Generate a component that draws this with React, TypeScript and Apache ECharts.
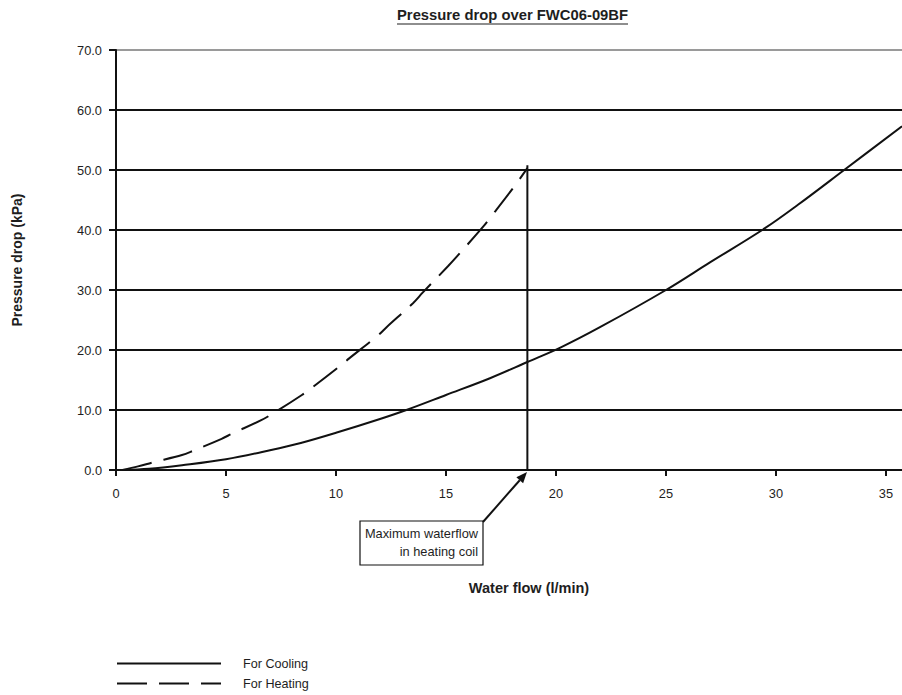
import React, { useEffect, useRef } from "react";
import * as echarts from "echarts";

const titleText = "Pressure drop over FWC06-09BF";
const xName = "Water flow (l/min)";
const yName = "Pressure drop (kPa)";
const seriesNames = ["For Cooling", "For Heating"];

const coolingFlow = [0.3, 1.5, 3, 5, 7, 8.4, 10, 12, 13.2, 15, 17, 18.7, 20.2, 22, 25, 27, 29.5, 31, 33.1, 35.73];
const coolingDrop = [0, 0.2, 0.8, 1.8, 3.3, 4.5, 6.2, 8.5, 10, 12.5, 15.3, 18.0, 20.4, 23.8, 30, 34.6, 40.3, 44.2, 50, 57.3];

const heatingFlow = [0.3, 1, 1.7, 3, 3.5, 4.8, 5.3, 6.6, 7.3, 8.45, 8.9, 10.1, 10.6, 11.9, 12.3, 13.5, 13.95, 15.1, 15.5, 16.7, 17, 18.05, 18.7];
const heatingDrop = [0, 0.6, 1.3, 2.5, 3.2, 5.2, 6.1, 8.3, 9.8, 12.5, 13.7, 17.1, 18.6, 22.4, 23.8, 27.8, 29.6, 34.0, 35.6, 40.6, 42.0, 47.0, 50.3];

const maxHeatingFlow = 18.7;
const maxLineTop = 50.8;

const xMin = 0;
const xMax = 35.73;
const xInterval = 5;
const yMin = 0;
const yMax = 70;
const yInterval = 10;

const annotationLines = ["Maximum waterflow", "in heating coil"];

const FONT = '"Liberation Sans", Arial, Helvetica, sans-serif';
const TEXT = "#1e1e1e";
const LINE = "#111";

export default function App() {
  const ref = useRef<HTMLDivElement>(null);

  useEffect(() => {
    if (!ref.current) return;
    const chart = echarts.init(ref.current, undefined, { renderer: "svg" });

    const cooling = coolingFlow.map((x, i) => [x, coolingDrop[i]]);
    const heating = heatingFlow.map((x, i) => [x, heatingDrop[i]]);

    // arrow geometry (annotation, pixels)
    const tail = [483, 522];
    const tip = [527, 472];
    const dx = tip[0] - tail[0];
    const dy = tip[1] - tail[1];
    const len = Math.sqrt(dx * dx + dy * dy);
    const ux = dx / len;
    const uy = dy / len;
    const ah = 11;
    const aw = 4.5;
    const bx = tip[0] - ux * ah;
    const by = tip[1] - uy * ah;

    const splitColors: string[] = [];
    for (let v = yMin; v <= yMax; v += yInterval) splitColors.push(v === yMax ? "#9a9a9a" : LINE);

    chart.setOption({
      animation: false,
      backgroundColor: "#fff",
      textStyle: { fontFamily: FONT },
      title: {
        text: titleText,
        left: 397,
        top: 7,
        padding: 0,
        textStyle: { fontFamily: FONT, fontWeight: "bold", fontSize: 14.8, color: TEXT },
      },
      grid: { left: 116, right: 0, top: 50, bottom: 225, containLabel: false },
      legend: {
        orient: "vertical",
        left: 116,
        top: 657,
        padding: 0,
        itemWidth: 104,
        itemHeight: 12,
        itemGap: 7,
        data: seriesNames,
        itemStyle: { color: "transparent", opacity: 0, borderWidth: 0 },
        textStyle: { fontFamily: FONT, fontSize: 12.6, color: TEXT, padding: [0, 0, 0, 17] },
      },
      xAxis: {
        type: "value",
        min: xMin,
        max: xMax,
        interval: xInterval,
        name: xName,
        nameLocation: "middle",
        nameGap: 110,
        nameTextStyle: {
          fontFamily: FONT,
          fontWeight: "bold",
          fontSize: 14.5,
          color: TEXT,
          padding: [0, 0, 0, 40],
        },
        axisLine: { show: true, onZero: false, lineStyle: { color: LINE, width: 2 } },
        axisTick: { show: true, inside: false, length: 6, lineStyle: { color: LINE, width: 2 } },
        axisLabel: { fontFamily: FONT, fontSize: 12.8, color: TEXT, margin: 17, showMaxLabel: false },
        splitLine: { show: false },
      },
      yAxis: {
        type: "value",
        min: yMin,
        max: yMax,
        interval: yInterval,
        name: yName,
        nameLocation: "middle",
        nameGap: 92,
        nameRotate: 90,
        nameTextStyle: { fontFamily: FONT, fontWeight: "bold", fontSize: 14, color: TEXT },
        axisLine: { show: true, lineStyle: { color: LINE, width: 2 } },
        axisTick: { show: true, inside: false, length: 7, lineStyle: { color: LINE, width: 2 } },
        axisLabel: {
          fontFamily: FONT,
          fontSize: 12.8,
          color: TEXT,
          margin: 14,
          formatter: (v: number) => v.toFixed(1),
        },
        splitLine: { show: true, lineStyle: { color: splitColors, width: 2 } },
      },
      series: [
        {
          name: seriesNames[0],
          type: "line",
          data: cooling,
          symbol: "none",
          smooth: 0.35,
          lineStyle: { color: LINE, width: 2, type: "solid" },
          itemStyle: { color: LINE },
          z: 5,
        },
        {
          name: seriesNames[1],
          type: "line",
          data: heating,
          symbol: "none",
          smooth: 0.35,
          lineStyle: { color: LINE, width: 2, type: [30, 12] },
          itemStyle: { color: LINE },
          z: 5,
        },
        {
          name: "Maximum waterflow",
          type: "line",
          data: [
            [maxHeatingFlow, yMin],
            [maxHeatingFlow, maxLineTop],
          ],
          symbol: "none",
          lineStyle: { color: LINE, width: 2 },
          itemStyle: { color: LINE },
          z: 6,
        },
      ],
      graphic: [
        {
          type: "line",
          shape: { x1: 397, y1: 24, x2: 628, y2: 24 },
          style: { stroke: TEXT, lineWidth: 1.2 },
        },
        {
          type: "rect",
          shape: { x: 360, y: 521, width: 123, height: 44 },
          style: { fill: "#fff", stroke: LINE, lineWidth: 1.2 },
        },
        {
          type: "text",
          x: 478,
          y: 533,
          style: {
            text: annotationLines[0],
            fontFamily: FONT,
            fontSize: 12.8,
            fill: TEXT,
            textAlign: "right",
            textVerticalAlign: "middle",
          },
        },
        {
          type: "text",
          x: 478,
          y: 551,
          style: {
            text: annotationLines[1],
            fontFamily: FONT,
            fontSize: 12.8,
            fill: TEXT,
            textAlign: "right",
            textVerticalAlign: "middle",
          },
        },
        {
          type: "line",
          shape: { x1: tail[0], y1: tail[1], x2: bx, y2: by },
          style: { stroke: LINE, lineWidth: 2 },
        },
        {
          type: "polygon",
          shape: {
            points: [
              [tip[0], tip[1]],
              [bx - uy * aw, by + ux * aw],
              [bx + uy * aw, by - ux * aw],
            ],
          },
          style: { fill: LINE },
        },
      ],
    });

    return () => {
      chart.dispose();
    };
  }, []);

  return (
    <div
      ref={ref}
      style={{ position: "absolute", left: 0, top: 0, width: 902, height: 695 }}
    />
  );
}
